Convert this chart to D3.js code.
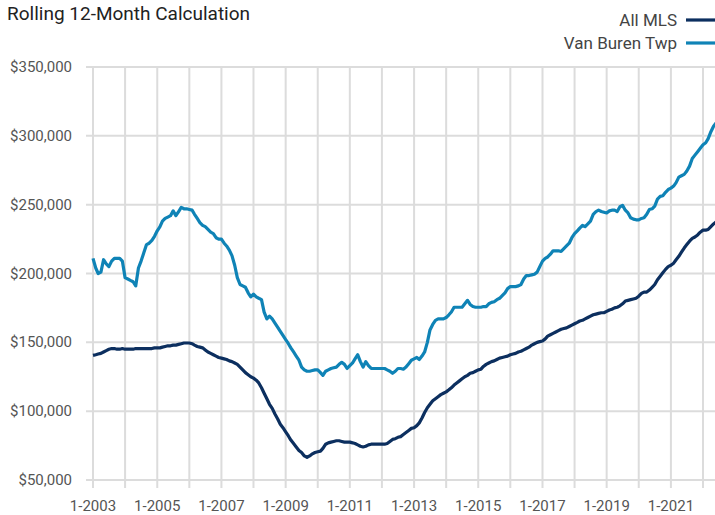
<!DOCTYPE html>
<html>
<head>
<meta charset="utf-8">
<script src="https://cdn.jsdelivr.net/npm/d3@7"></script>
<style>
  body { margin: 0; background: #fff; }
  svg { display: block; font-family: "Liberation Sans Narrow", "Roboto", "Liberation Sans", sans-serif; }
</style>
</head>
<body>
<div id="chart"></div>
<script>
// monthly values, Jan 2003 .. Jun 2022 (in $1000s)
const startYear = 2003;
const allMls = [
  140.5, 141, 141.5, 142, 143, 144, 145, 145.5, 145.5, 145, 145, 145.5,
  145, 145, 145, 145, 145.5, 145.5, 145.5, 145.5, 145.5, 145.5, 145.5, 146,
  146, 146, 146.5, 147, 147.5, 147.5, 148, 148, 148.5, 149, 149.5, 149.5,
  149.5, 149, 148, 147, 146.5, 146, 144.5, 143, 142, 141, 140, 139,
  138.5, 138, 137.5, 136.5, 136, 135, 134, 132, 130, 128, 126.5, 125,
  124, 122.5, 120.5, 117, 113, 109, 105, 102, 98, 94.5, 90.5, 88,
  85, 82, 79, 76.5, 74, 71.5, 70, 67.5, 66.5, 67.5, 69, 70,
  70.5, 71, 73, 76, 77, 77.5, 78, 78.5, 78.5, 78, 77.5, 77.5,
  77.5, 77, 76.5, 75.5, 74.5, 74, 74.5, 75.5, 76, 76, 76, 76,
  76, 76, 76.5, 78, 79.5, 80, 81, 81.5, 83, 84.5, 86, 87.5,
  88, 89.5, 91.5, 95, 99, 102.5, 105, 107.5, 109, 110.5, 112, 113,
  114, 115.5, 117, 119, 120.5, 122, 123.5, 125, 126, 127.5, 128, 129,
  130, 130.5, 132.5, 134, 135, 136, 136.5, 137.5, 138.5, 139, 139.5, 140,
  141, 141.5, 142, 143, 143.5, 144.5, 145.5, 146.5, 148, 149, 150, 150.5,
  151, 152.5, 154.5, 155.5, 156.5, 157.5, 158.5, 159.5, 160, 160.5, 161.5, 162.5,
  163.5, 164.5, 165.5, 166, 167, 168, 169, 170, 170.5, 171, 171.5, 171.5,
  172.5, 173.5, 174, 175, 175.5, 176.5, 178, 180, 180.5, 181, 181.5, 182,
  183.5, 185.5, 186.5, 186.5, 188, 190, 192, 195.5, 198, 200.5, 203, 205,
  206, 207.5, 210, 212.5, 215.5, 218.5, 221, 223.5, 225.5, 226.5, 228, 230,
  231.5, 231.5, 232, 234, 236, 237.5
];
const vanBuren = [
  211, 204, 200, 201, 210, 207, 205, 209, 211, 211, 211, 209,
  197, 196, 195, 194, 191, 204, 209, 215, 221, 222, 224, 227,
  231, 234, 238, 240, 241, 242, 245.5, 242, 245, 248, 247, 247,
  246.5, 246, 243, 240, 237, 235, 234, 232, 230, 229, 226, 225,
  225, 222, 220, 217, 213, 206, 197, 192, 191, 190, 186, 183,
  185, 183, 182, 181, 172, 167, 169, 167, 164, 161, 158, 155,
  152, 149, 146, 143, 140, 137, 132, 130, 129, 129, 129.5, 130,
  130, 128, 126, 129, 130, 131, 131.5, 132, 134, 135.5, 134, 131,
  133, 135, 138, 141, 136, 132, 136, 133, 131, 131, 131, 131,
  131, 131, 130, 129, 127.5, 129, 131, 131, 130.5, 132, 134.5, 137,
  138, 139, 137.5, 140, 143, 150, 159, 163, 166, 167, 167, 167,
  168, 170, 172, 175.5, 175.5, 175.5, 175.5, 178, 180.5, 177.5, 176, 175.5,
  175.5, 175.5, 176, 176, 178, 179, 179.5, 181, 182, 184, 186, 189,
  190.5, 190.5, 190.5, 191, 192, 196, 198.5, 198.5, 199, 199.5, 201, 205,
  209, 211, 212, 214, 216.5, 216.5, 216.5, 216, 218, 220, 222, 226,
  229, 231, 233, 235, 234, 236, 238, 243, 245, 246, 245, 244.5,
  244, 245.5, 246, 246, 245, 248.5, 249.5, 246, 244, 240.5, 239.5, 239,
  239, 240, 240.5, 243, 246.5, 247, 249, 254, 256, 256.5, 259, 261,
  262, 263.5, 266, 270, 271, 272, 274.5, 278, 283.5, 286, 288.5, 291,
  293.5, 295, 298, 303, 307, 309.5
];
const yTicks = [50000, 100000, 150000, 200000, 250000, 300000, 350000];
const seriesNames = ["All MLS", "Van Buren Twp"];
const seriesColors = ["#0c2f5f", "#0f83b6"];

const W = 715, H = 515;
const months = allMls.map((_, i) => new Date(startYear, i, 1));

const x = d3.scaleTime()
  .domain([new Date(2003, 0, 1), new Date(2022, 0, 1)])
  .range([93, 703]);
const y = d3.scaleLinear().domain([50000, 350000]).range([480, 67]);

const svg = d3.select("#chart").append("svg")
  .attr("width", W).attr("height", H);

// title
svg.append("text")
  .attr("x", 7).attr("y", 20)
  .style("font-size", "19px").style("fill", "#222")
  .text("Rolling 12-Month Calculation");

// grid
const grid = svg.append("g").attr("stroke", "#dcdcdc").attr("stroke-width", 2);
grid.selectAll("line.h").data(yTicks).join("line")
  .attr("x1", 86).attr("x2", W)
  .attr("y1", d => y(d)).attr("y2", d => y(d));

const years = d3.range(2003, 2023).map(yr => new Date(yr, 0, 1));
grid.selectAll("line.v").data(years).join("line")
  .attr("x1", d => x(d)).attr("x2", d => x(d))
  .attr("y1", y(350000)).attr("y2", 488);

// y labels
svg.append("g").selectAll("text").data(yTicks).join("text")
  .attr("x", 72).attr("y", d => y(d) + 5)
  .attr("text-anchor", "end")
  .style("font-size", "15px").style("fill", "#555")
  .text(d => d3.format("$,")(d));

// x labels
const labelYears = d3.range(2003, 2023, 2).map(yr => new Date(yr, 0, 1));
svg.append("g").selectAll("text").data(labelYears).join("text")
  .attr("x", d => x(d)).attr("y", 511)
  .attr("text-anchor", "middle")
  .style("font-size", "15px").style("fill", "#555")
  .text(d => "1-" + d.getFullYear());

// lines
const line = d3.line()
  .x((d, i) => x(months[i]))
  .y(d => y(d * 1000));

[allMls, vanBuren].forEach((s, k) => {
  svg.append("path")
    .datum(s)
    .attr("d", line)
    .attr("fill", "none")
    .attr("stroke", seriesColors[k])
    .attr("stroke-width", 3.2)
    .attr("stroke-linejoin", "round");
});

// legend
const legend = svg.append("g");
seriesNames.forEach((name, k) => {
  const ly = 20 + k * 23;
  legend.append("text")
    .attr("x", 677).attr("y", ly + 6)
    .attr("text-anchor", "end")
    .style("font-size", "17px").style("fill", "#444")
    .text(name);
  legend.append("line")
    .attr("x1", 686).attr("x2", W)
    .attr("y1", ly).attr("y2", ly)
    .attr("stroke", seriesColors[k]).attr("stroke-width", 3.2);
});
</script>
</body>
</html>
